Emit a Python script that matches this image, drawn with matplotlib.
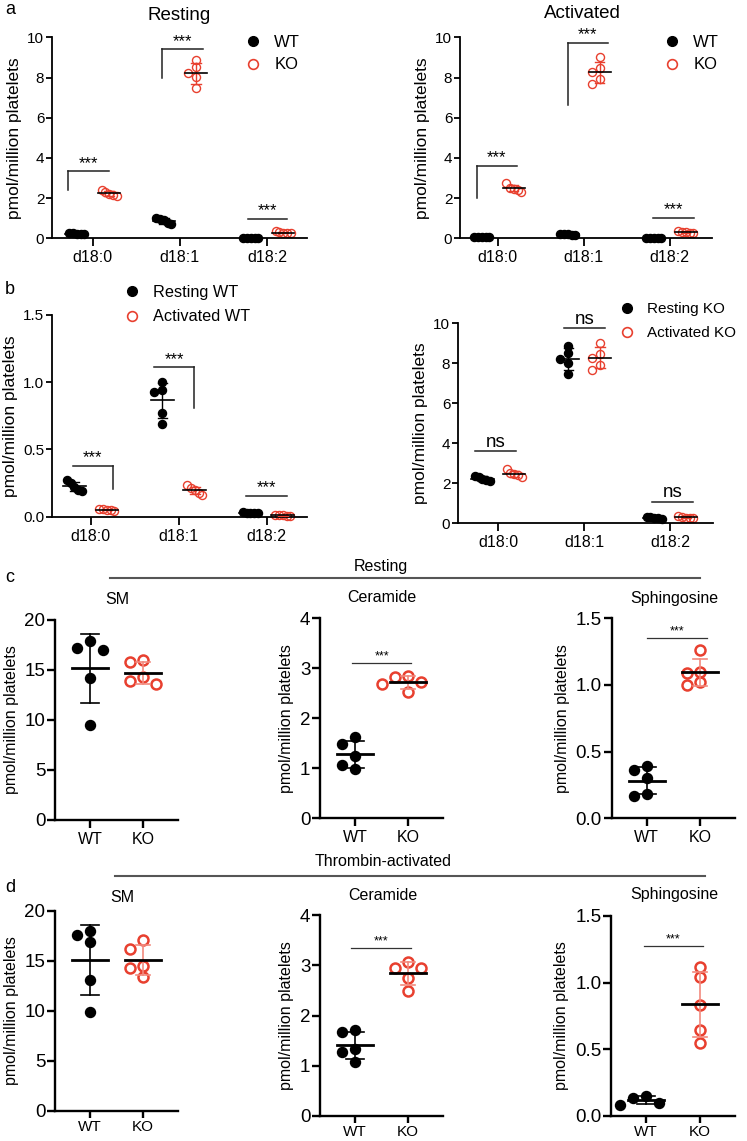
import numpy as np
import matplotlib
matplotlib.use('Agg')
import matplotlib.pyplot as plt
from matplotlib.lines import Line2D

plt.rcParams['font.family'] = ['Liberation Sans', 'DejaVu Sans']

W, H = 747, 1141
RED = '#e8402f'
LRED = '#f28a7e'

# ---- data (pmol/million platelets) ----
lipids = ['d18:0', 'd18:1', 'd18:2']
groups = ['WT', 'KO']

rest_wt = [[0.27, 0.25, 0.22, 0.20, 0.19],
           [1.00, 0.94, 0.93, 0.77, 0.69],
           [0.035, 0.03, 0.03, 0.025, 0.025]]
act_wt = [[0.06, 0.055, 0.05, 0.05, 0.045],
          [0.235, 0.21, 0.195, 0.175, 0.16],
          [0.012, 0.01, 0.01, 0.008, 0.008]]
rest_ko = [[2.38, 2.32, 2.22, 2.15, 2.10],
           [8.88, 8.50, 8.21, 8.02, 7.47],
           [0.34, 0.31, 0.28, 0.26, 0.24]]
act_ko = [[2.73, 2.50, 2.46, 2.42, 2.32],
          [9.04, 8.46, 8.25, 7.93, 7.67],
          [0.36, 0.32, 0.29, 0.27, 0.25]]

sm_rest_wt = [17.2, 17.9, 17.0, 14.2, 9.5]
sm_rest_ko = [16.0, 15.8, 14.3, 13.6, 13.9]
cer_rest_wt = [1.49, 1.62, 1.25, 0.98, 1.07]
cer_rest_ko = [2.73, 2.83, 2.84, 2.68, 2.52]
sph_rest_wt = [0.39, 0.36, 0.30, 0.17, 0.18]
sph_rest_ko = [1.26, 1.10, 1.09, 1.00, 1.02]

sm_act_wt = [17.97, 16.83, 17.57, 13.07, 9.9]
sm_act_ko = [17.03, 16.13, 14.47, 14.23, 13.4]
cer_act_wt = [1.665, 1.71, 1.33, 1.27, 1.07]
cer_act_ko = [2.95, 3.06, 2.95, 2.74, 2.49]
sph_act_wt = [0.085, 0.15, 0.10, 0.135]
sph_act_ko = [1.12, 1.04, 0.83, 0.645, 0.55]

fig = plt.figure(figsize=(W / 100, H / 100), dpi=100)


def add_ax(x0, x1, ytop, ybot, xlim, ylim, yticks, big=False):
    ax = fig.add_axes([x0 / W, 1 - ybot / H, (x1 - x0) / W, (ybot - ytop) / H])
    ax.set_xlim(*xlim)
    ax.set_ylim(*ylim)
    ax.set_yticks(yticks)
    for s in ['top', 'right']:
        ax.spines[s].set_visible(False)
    lw = 1.7 if big else 1.3
    for s in ['left', 'bottom']:
        ax.spines[s].set_linewidth(lw)
    ax.tick_params(axis='y', length=5.5 if big else 4, width=lw,
                   labelsize=13.5 if big else 11, pad=1.5)
    ax.tick_params(axis='x', length=6, width=lw, labelsize=11.5, pad=2.5)
    ax.set_ylabel('pmol/million platelets', fontsize=11.5 if big else 12.5, labelpad=4)
    return ax


def swarm(ax, vals, diam, step, diag_half):
    pos = ax.get_position()
    x0, x1 = ax.get_xlim()
    y0, y1 = ax.get_ylim()
    ppx = pos.width * W / (x1 - x0)
    ppy = pos.height * H / (y1 - y0)
    vals = np.asarray(vals, float)
    order = np.argsort(-vals, kind='stable')
    ranks = np.empty(len(vals), int)
    ranks[order] = np.arange(len(vals))
    # tightly packed groups are laid out as a descending diagonal
    if diag_half is not None and (vals.max() - vals.min()) * ppy < 2 * diam:
        return np.linspace(-diag_half, diag_half, len(vals))[ranks] / ppx
    cands = [0.0]
    for j in range(1, 20):
        cands += [-j * step, j * step]
    placed = []
    offs = np.zeros(len(vals))
    for i in order:
        yp = vals[i] * ppy
        for c in cands:
            if all((c - px) ** 2 + (yp - py) ** 2 >= (0.95 * diam) ** 2 for px, py in placed):
                break
        offs[i] = c
        placed.append((c, yp))
    return offs / ppx


def dots(ax, vals, xc, filled, color, ms, diam, step, diag_half,
         mean_half, cap_half, sd_color, mean_lw, sd_lw, ew):
    xs = xc + swarm(ax, vals, diam, step, diag_half)
    ax.plot(xs, vals, 'o', ls='none', ms=ms, mfc=color if filled else 'none',
            mec=color, mew=ew, zorder=2, clip_on=False)
    m = np.mean(vals)
    sd = np.std(vals, ddof=1)
    ax.plot([xc, xc], [m - sd, m + sd], color=sd_color, lw=sd_lw, zorder=3)
    for v in (m - sd, m + sd):
        ax.plot([xc - cap_half, xc + cap_half], [v, v], color=sd_color, lw=sd_lw, zorder=3)
    ax.plot([xc - mean_half, xc + mean_half], [m, m], color='k', lw=mean_lw, zorder=3)


def sig(ax, x0, x1, y, text, fs, left_to=None, right_to=None, lw=1.1, pad=0.5, color='#222222'):
    ax.plot([x0, x1], [y, y], color=color, lw=lw, clip_on=False)
    if left_to is not None:
        ax.plot([x0, x0], [y, left_to], color=color, lw=lw)
    if right_to is not None:
        ax.plot([x1, x1], [y, right_to], color=color, lw=lw)
    ax.annotate(text, xy=((x0 + x1) / 2, y), xytext=(0, pad), textcoords='offset points',
                ha='center', va='bottom', fontsize=fs, annotation_clip=False)


def legend(ax, labels, bx, by, spacing, fs):
    handles = [Line2D([], [], marker='o', ls='none', ms=7, mfc='k', mec='k'),
               Line2D([], [], marker='o', ls='none', ms=7, mfc='none', mec=RED, mew=1.2)]
    ax.legend(handles, labels, loc='upper left', bbox_to_anchor=(bx, by), frameon=False,
              fontsize=fs, borderpad=0, borderaxespad=0, handlelength=1.0,
              handletextpad=0.8, labelspacing=spacing)


def lipid_panel(ax, left_vals, right_vals, sigs, sig_text, sig_fs):
    gx = 0.185
    for k in range(3):
        dots(ax, left_vals[k], k - gx, True, 'k', 5.8, 8, 8, 7.5,
             0.13, 0.055, 'k', 1.2, 1.0, 1.0)
        dots(ax, right_vals[k], k + gx, False, RED, 5.8, 8, 8, 7.5,
             0.13, 0.055, RED, 1.2, 1.0, 1.0)
    for k, a0, a1, y, lt, rt in sigs:
        sig(ax, k + a0, k + a1, y, sig_text, sig_fs, left_to=lt, right_to=rt)
    ax.set_xticks(range(3))
    ax.set_xticklabels(lipids)


# ---- panel a ----
axA1 = add_ax(52, 307, 37.3, 238.3, (-0.47, 2.46), (0, 10), range(0, 11, 2))
lipid_panel(axA1, rest_wt, rest_ko,
            [(0, -0.29, 0.18, 3.33, 2.4, None), (1, -0.21, 0.26, 9.4, 7.96, None),
             (2, -0.22, 0.23, 0.95, None, None)], '***', 12)
legend(axA1, ['WT', 'KO'], 0.754, 1.012, 0.45, 12)

axA2 = add_ax(460, 712, 37.3, 238.3, (-0.44, 2.49), (0, 10), range(0, 11, 2))
lipid_panel(axA2, act_wt, act_ko,
            [(0, -0.24, 0.22, 3.6, 2.0, None), (1, -0.19, 0.28, 9.72, 6.63, None),
             (2, -0.2, 0.28, 1.0, None, None)], '***', 12)
legend(axA2, ['WT', 'KO'], 0.807, 1.012, 0.45, 12)

# ---- panel b ----
axB1 = add_ax(52, 307, 315, 516.7, (-0.44, 2.46), (0, 1.5), [0, 0.5, 1.0, 1.5])
axB1.set_yticklabels(['0.0', '0.5', '1.0', '1.5'])
lipid_panel(axB1, rest_wt, act_wt,
            [(0, -0.2, 0.25, 0.38, None, 0.206), (1, -0.28, 0.18, 1.11, None, 0.81),
             (2, -0.23, 0.23, 0.157, None, None)], '***', 12)
legend(axB1, ['Resting WT', 'Activated WT'], 0.283, 1.15, 0.6, 11.7)

axB2 = add_ax(458, 713, 323.3, 523.3, (-0.47, 2.5), (0, 10), range(0, 11, 2))
lipid_panel(axB2, rest_ko, act_ko,
            [(0, -0.27, 0.21, 3.6, None, None), (1, -0.23, 0.24, 9.75, None, None),
             (2, -0.21, 0.27, 1.07, None, None)], 'ns', 13.5)
legend(axB2, ['Resting KO', 'Activated KO'], 0.633, 1.105, 0.65, 11)

# ---- panels c and d ----
def wk_panel(ax, wt, ko, title, tx, ty, sigspec=None):
    dots(ax, wt, 0, True, 'k', 7.2, 10, 13, None, 0.34, 0.17, 'k', 2.0, 1.2, 1.0)
    dots(ax, ko, 1, False, RED, 7.2, 10, 13, None, 0.34, 0.13, LRED, 2.0, 1.2, 1.8)
    ax.set_xticks([0, 1])
    ax.set_xticklabels(groups)
    fig.text(tx / W, 1 - ty / H, title, ha='center', va='center', fontsize=11.5)
    if sigspec is not None:
        sig(ax, sigspec[0], sigspec[1], sigspec[2], '***', 9, lw=0.9, pad=0.3, color='#333333')


xl = (-0.66, 1.66)
axC1 = add_ax(55, 178, 620, 820, xl, (0, 20), range(0, 21, 5), big=True)
wk_panel(axC1, sm_rest_wt, sm_rest_ko, 'SM', 117, 600)
axC2 = add_ax(320, 443, 618.3, 818.3, xl, (0, 4), range(0, 5), big=True)
wk_panel(axC2, cer_rest_wt, cer_rest_ko, 'Ceramide', 382, 597, (-0.05, 1.06, 3.1))
axC3 = add_ax(611.7, 735, 618.3, 818.3, xl, (0, 1.5), [0, 0.5, 1.0, 1.5], big=True)
axC3.set_yticklabels(['0.0', '0.5', '1.0', '1.5'])
wk_panel(axC3, sph_rest_wt, sph_rest_ko, 'Sphingosine', 674, 598, (0, 1.125, 1.35))

axD1 = add_ax(55, 178, 910.7, 1110.7, xl, (0, 20), range(0, 21, 5), big=True)
wk_panel(axD1, sm_act_wt, sm_act_ko, 'SM', 122, 897)
axD2 = add_ax(320, 443, 915, 1116, xl, (0, 4), range(0, 5), big=True)
wk_panel(axD2, cer_act_wt, cer_act_ko, 'Ceramide', 383, 895, (-0.07, 1.05, 3.35))
axD3 = add_ax(611, 735, 916, 1116, xl, (0, 1.5), [0, 0.5, 1.0, 1.5], big=True)
axD3.set_yticklabels(['0.0', '0.5', '1.0', '1.5'])
wk_panel(axD3, sph_act_wt, sph_act_ko, 'Sphingosine', 674, 895, (-0.05, 1.06, 1.275))
for ax in (axD1, axD2, axD3):
    ax.tick_params(axis='x', length=5, labelsize=11, pad=1.5)

# ---- titles, dividers, panel letters ----
fig.text(179 / W, 1 - 15 / H, 'Resting', ha='center', va='center', fontsize=13.5)
fig.text(582 / W, 1 - 14 / H, 'Activated', ha='center', va='center', fontsize=13.5)

fig.add_artist(Line2D([110 / W, 700 / W], [1 - 578 / H] * 2, color='#555555', lw=1.5))
fig.text(381 / W, 1 - 566 / H, 'Resting', ha='center', va='center', fontsize=11.5)
fig.add_artist(Line2D([115 / W, 705 / W], [1 - 876 / H] * 2, color='#555555', lw=1.5))
fig.text(383 / W, 1 - 862 / H, 'Thrombin-activated', ha='center', va='center', fontsize=11.5)

for lab, y in [('a', 9), ('b', 290), ('c', 578), ('d', 887)]:
    fig.text(10 / W, 1 - y / H, lab, ha='center', va='center', fontsize=13)

fig.savefig('out.png', dpi=100)
